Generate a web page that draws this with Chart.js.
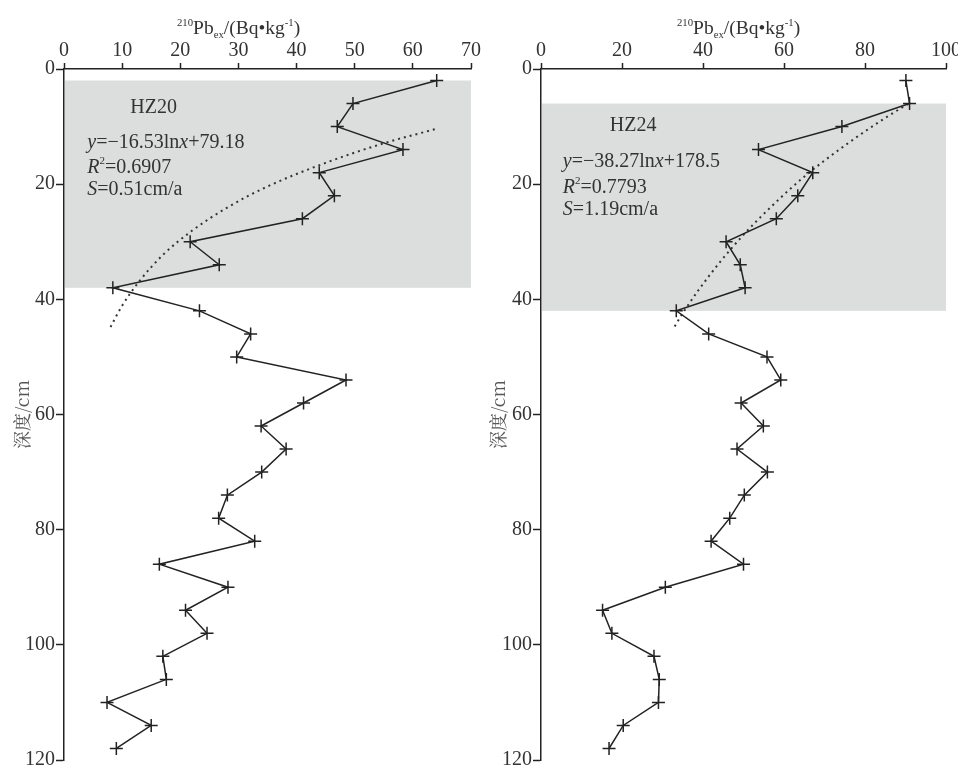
<!DOCTYPE html>
<html>
<head>
<meta charset="utf-8">
<script src="https://cdn.jsdelivr.net/npm/chart.js@4.4.1/dist/chart.umd.min.js"></script>
<style>
html,body{margin:0;padding:0;background:#fff;overflow:hidden;width:958px;height:769px}
#left{position:absolute;left:0;top:0}
#right{position:absolute;left:480px;top:0}
</style>
</head>
<body>
<canvas id="left" width="500" height="780"></canvas>
<canvas id="right" width="490" height="780"></canvas>
<script>
// depth of each sample (cm)
const depth=[2,6,10,14,18,22,26,30,34,38,42,46,50,54,58,62,66,70,74,78,82,86,90,94,98,102,106,110,114,118]

// 210Pbex activity (Bq/kg)
const hz20=[64.1,49.7,47.0,58.3,43.9,46.5,41.0,21.7,26.7,8.4,23.3,32.1,29.7,48.5,41.2,33.9,38.2,34.0,28.1,26.6,32.8,16.4,28.2,20.9,24.6,17.0,17.6,7.4,15.0,9.0]
const hz24=[90.1,91.0,74.3,53.7,67.1,63.4,58.1,45.7,49.2,50.4,33.4,41.4,55.8,59.2,49.4,54.9,48.4,55.9,50.2,46.6,42.0,50.0,30.7,15.2,17.5,27.9,29.2,29.0,20.3,16.8]

// dotted fit curves
const hz20FitX=[8,10,13,17,22,28,35,45,55,64]
const hz20FitY=[44.8,41.1,36.8,32.3,28.1,24.1,20.4,16.3,12.9,10.4]
const hz24FitX=[33,35,39,44,50,57,65,75,85,91]
const hz24FitY=[44.7,42.4,38.3,33.7,28.8,23.8,18.7,13.3,8.5,5.9]

// shaded depth ranges
const hz20Box=[2,38]
const hz24Box=[6,42]

const xTicks20=[0,70,10]
const xTicks24=[0,100,20]
const yRange=[0,120,20]

const serif='"Liberation Serif","Times New Roman",serif'
const ink='#222'
const txt='#333'

function pts(xs,ys){
    let arr=[]
    for(let i=0;i<xs.length;i++){
        arr.push({x:xs[i],y:ys[i]})
    }
    return arr
}

// draw text made of pieces: normal, italic, sup, sub
function richText(ctx,parts,x,y,size){
    let cx=x
    ctx.fillStyle=txt
    ctx.textBaseline='alphabetic'
    ctx.textAlign='left'
    for(let p of parts){
        let s=size, dy=0
        if(p.sup){s=size*0.55;dy=-size*0.42}
        if(p.sub){s=size*0.55;dy=size*0.22}
        ctx.font=(p.i?'italic ':'')+s+'px '+serif
        ctx.fillText(p.t,cx,y+dy)
        cx+=ctx.measureText(p.t).width
    }
}

const titleParts=[{t:'210',sup:1},{t:'Pb'},{t:'ex',sub:1},{t:'/(Bq\u2022kg'},{t:'-1',sup:1},{t:')'}]

function panelPlugin(cfg){
    return {
        id:'panel',
        beforeDraw(chart){
            let ctx=chart.ctx, xs=chart.scales.x, ys=chart.scales.y
            let y0=ys.getPixelForValue(cfg.box[0]), y1=ys.getPixelForValue(cfg.box[1])
            let x0=chart.chartArea.left+1, x1=xs.getPixelForValue(xs.max)
            ctx.save()
            ctx.fillStyle='#dcdddd'
            ctx.fillRect(x0,y0,x1-x0,y1-y0)
            ctx.restore()
        },
        afterDraw(chart){
            let ctx=chart.ctx, xs=chart.scales.x, ys=chart.scales.y
            ctx.save()
            richText(ctx,titleParts,cfg.titleX,34,19.5)
            richText(ctx,[{t:cfg.name}],xs.getPixelForValue(cfg.nameAt[0]),ys.getPixelForValue(cfg.nameAt[1]),20)
            let lx=xs.getPixelForValue(cfg.textX)
            richText(ctx,[{t:'y',i:1},{t:'=\u2212'+cfg.a+'ln'},{t:'x',i:1},{t:'+'+cfg.b}],lx,ys.getPixelForValue(cfg.lines[0]),20)
            richText(ctx,[{t:'R',i:1},{t:'2',sup:1},{t:'='+cfg.r2}],lx,ys.getPixelForValue(cfg.lines[1]),20)
            richText(ctx,[{t:'S',i:1},{t:'='+cfg.s}],lx,ys.getPixelForValue(cfg.lines[2]),20)
            ctx.restore()
        }
    }
}

function buildPanel(id,values,fitX,fitY,xr,yAxisW,yTitlePad,padRight,cfg){
    let ctx=document.getElementById(id).getContext('2d')
    let myChart={
        type:'scatter',
        data:{
            datasets:[{
                data:pts(values,depth),
                showLine:true,
                borderColor:ink,
                borderWidth:1.5,
                pointStyle:'cross',
                pointRadius:6.5,
                pointBorderColor:ink,
                pointBorderWidth:1.5,
                order:1
            },{
                data:pts(fitX,fitY),
                showLine:true,
                borderColor:'#333',
                borderWidth:2,
                borderDash:[2,4],
                pointRadius:0,
                cubicInterpolationMode:'monotone',
                order:2
            }]
        },
        options:{
            responsive:false,
            animation:false,
            devicePixelRatio:1,
            layout:{padding:{left:0,top:0,right:padRight,bottom:20}},
            plugins:{legend:{display:false},tooltip:{enabled:false}},
            scales:{
                x:{
                    type:'linear',
                    position:'top',
                    min:xr[0],max:xr[1],
                    ticks:{stepSize:xr[2],color:txt,padding:0,font:{family:serif,size:20}},
                    grid:{drawOnChartArea:false,tickLength:6,tickColor:ink,tickWidth:1.5},
                    border:{display:true,color:ink,width:1.5},
                    afterFit(s){s.height=69}
                },
                y:{
                    type:'linear',
                    reverse:true,
                    min:yRange[0],max:yRange[1],
                    ticks:{stepSize:yRange[2],color:txt,padding:1,font:{family:serif,size:20}},
                    grid:{drawOnChartArea:false,tickLength:8,tickColor:ink,tickWidth:1.5},
                    border:{display:true,color:ink,width:1.5},
                    title:{display:true,text:'深度/cm',color:'#555',padding:{top:yTitlePad,bottom:0},
                        font:{family:'"Noto Serif CJK SC","Noto Sans CJK SC",serif',size:18}},
                    afterFit(s){s.width=yAxisW}
                }
            }
        },
        plugins:[panelPlugin(cfg)]
    }
    new Chart(ctx,myChart)
}

buildPanel('left',hz20,hz20FitX,hz20FitY,xTicks20,64,11,29,{
    box:hz20Box,titleX:177,name:'HZ20',nameAt:[11.4,7.6],
    textX:4,lines:[13.65,18.0,21.8],a:'16.53',b:'79.18',r2:'0.6907',s:'0.51cm/a'
})
buildPanel('right',hz24,hz24FitX,hz24FitY,xTicks24,61,7,24,{
    box:hz24Box,titleX:197,name:'HZ24',nameAt:[17,10.7],
    textX:5.4,lines:[16.95,21.5,25.3],a:'38.27',b:'178.5',r2:'0.7793',s:'1.19cm/a'
})
</script>
</body>
</html>
